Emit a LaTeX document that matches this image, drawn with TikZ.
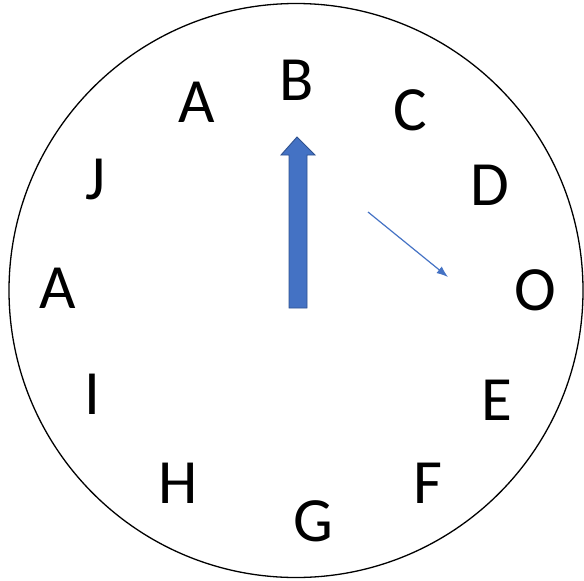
\documentclass[tikz,border=0pt]{standalone}
\usepackage{fontspec}
\setmainfont{Carlito}
\usepackage{xcolor}
\usetikzlibrary{calc,arrows.meta,positioning}
\definecolor{dialBlue}{RGB}{68,114,196}
\definecolor{dialBlueDark}{RGB}{47,82,143}
\tikzset{letter/.style={inner sep=0pt, anchor=center, font=\fontsize{63}{63}\selectfont}}

\begin{document}
\begin{tikzpicture}[x=1pt, y=-1pt]
\useasboundingbox (0,0) rectangle (584,581);
\draw[line width=1.3pt] (296,290.5) circle (287pt);
\node[letter] (a1) at (197,102) {A};
\node[letter] (b) at (297,80) {B};
\node[letter] (c) at (410,110) {C};
\node[letter] (d) at (490,185) {D};
\node[letter] (o) at (535,290) {O};
\node[letter] (e) at (497,400) {E};
\node[letter] (f) at (428,483) {F};
\node[letter] (g) at (313,521) {G};
\node[letter] (h) at (178,483) {H};
\node[letter] (i) at (92,394) {I};
\node[letter] (a2) at (58,288) {A};
\node[letter] (j) at (96,180) {J};
% long hand
\filldraw[fill=dialBlue, draw=dialBlueDark, line width=0.9pt]
  (289,308) -- (289,155) -- (281,155) -- (297,137) -- (315,155) -- (307,155) -- (307,308) -- cycle;
% short hand
\coordinate (hs) at (368,212);
\coordinate (he) at (448,277);
\draw[-{Latex[length=4mm,width=3mm]}, line width=1.2pt, color=dialBlue] (hs)--(he);
\end{tikzpicture}
\end{document}
